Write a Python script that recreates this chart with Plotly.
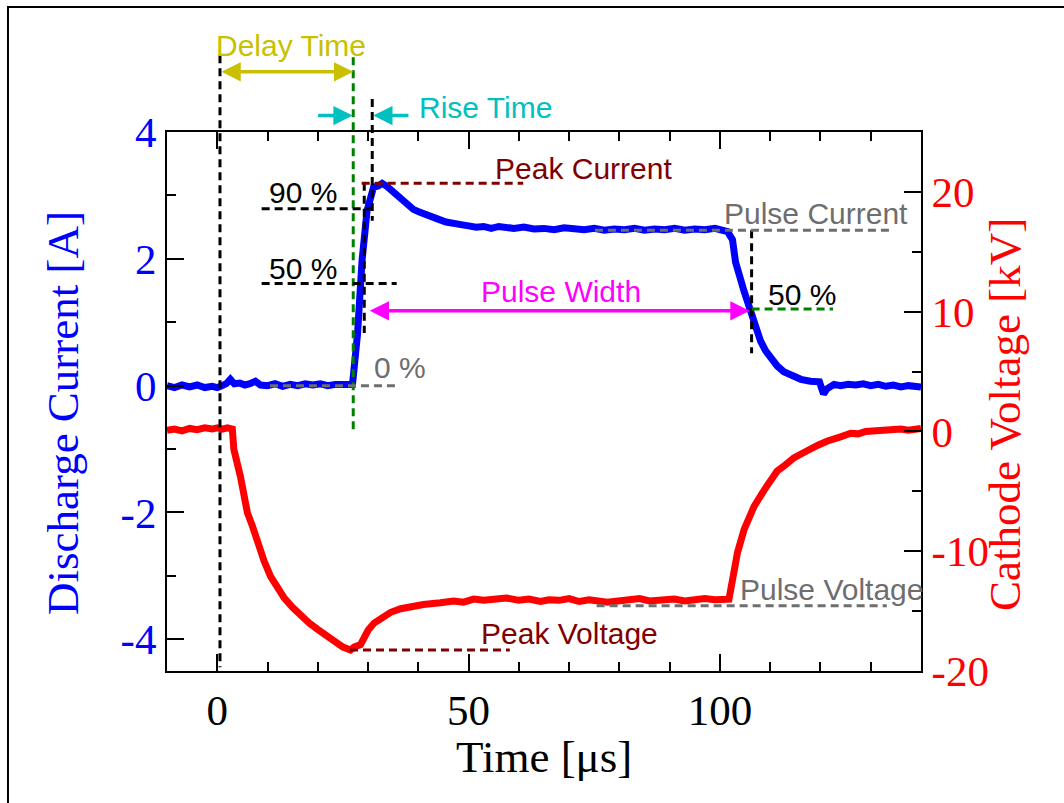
import plotly.graph_objects as go

# ---------------- data ----------------
time_current = [-10, -8.5, -7, -5.5, -4, -2.5, -1, 0, 1, 1.8, 2.6, 3.4, 4.5, 5.5, 6.5, 7.6, 8.6,
                10, 11.5, 13, 14.5, 16, 17.5, 19, 20.5, 22, 23.5, 25, 26.2, 26.9, 27.9, 28.8,
                29.8, 30.5, 31.1, 32.0, 32.8, 33.8, 35.1, 36.5, 37.8, 39.0, 40.2, 41.5, 42.8,
                43.8, 45.5, 47.0, 48.5, 50, 51.5, 53, 54.5, 56, 57.5, 59, 61, 63, 65, 67, 69,
                71, 73, 75, 77, 79, 81, 83, 85, 87, 89, 91, 93, 95, 97, 99, 100.5, 101.5,
                102.5, 103.1, 104.8, 106.1, 107.0, 108.1, 109.1, 110.1, 111.4, 112.7, 114.5,
                116.1, 118.0, 119.8, 120.6, 121.3, 122.7, 124, 125.5, 127, 128.5, 130, 131.5,
                133, 134.5, 136, 137.5, 139, 140]
discharge_current = [0.00, -0.03, 0.01, -0.02, 0.01, -0.03, -0.01, -0.03, 0.00, 0.03, 0.10, 0.03,
                     0.04, 0.01, 0.03, 0.07, 0.01, 0.00, 0.03, -0.01, 0.02, 0.00, 0.03, 0.01,
                     0.03, 0.00, 0.02, 0.01, 0.02, 0.02, 0.81, 1.97, 2.76, 3.00, 3.13, 3.15,
                     3.19, 3.14, 3.05, 2.93, 2.84, 2.78, 2.74, 2.69, 2.66, 2.63, 2.58, 2.57,
                     2.54, 2.52, 2.50, 2.51, 2.48, 2.51, 2.49, 2.48, 2.50, 2.47, 2.48, 2.46,
                     2.49, 2.47, 2.46, 2.48, 2.45, 2.47, 2.46, 2.48, 2.45, 2.47, 2.46, 2.48,
                     2.45, 2.47, 2.46, 2.48, 2.45, 2.43, 2.30, 1.95, 1.49, 1.17, 0.95, 0.70,
                     0.55, 0.43, 0.31, 0.22, 0.15, 0.10, 0.07, 0.06, -0.13, -0.05, 0.02, 0.00,
                     0.02, 0.01, 0.03, 0.00, 0.02, -0.01, 0.01, -0.02, 0.00, -0.02, -0.02]

time_voltage = [-10, -8.5, -7, -5.5, -4, -2.5, -1, 0, 1, 2, 3.0, 3.3, 4.6, 6.0, 7.0, 8.0, 9.3,
                10.6, 12, 13.3, 15, 16.6, 18.3, 19.9, 21.5, 23.2, 25, 26.5, 27.2, 28.5, 29.2,
                30, 31.2, 32.5, 34.5, 36.5, 38.5, 41, 44.4, 47, 49, 51, 53, 55, 57.5, 60,
                62, 64.3, 66, 68, 70, 72, 74, 77.6, 80, 82, 84, 86, 88, 90.9, 93, 95, 97, 99,
                100.5, 101.8, 102.5, 103.5, 104.8, 106.8, 108.8, 111.4, 113, 114.7, 116.5,
                118.0, 119.5, 121.4, 122.5, 124, 126.0, 127.5, 129, 131, 132.6, 134, 136,
                137.5, 139.3, 140]
cathode_voltage = [0.1, 0.2, 0.05, 0.25, 0.15, 0.3, 0.2, 0.3, 0.2, 0.3, 0.2, -1.5, -3.75, -6.8,
                   -7.9, -9.3, -10.8, -12.1, -13.1, -13.9, -14.7, -15.4, -16.0, -16.5, -17.0,
                   -17.6, -18.0, -18.25, -18.0, -17.8, -17.2, -16.6, -16.0, -15.6, -15.1,
                   -14.8, -14.6, -14.45, -14.3, -14.15, -14.25, -14.0, -14.1, -14.05, -13.9,
                   -14.1, -14.0, -14.2, -14.05, -14.1, -13.95, -14.2, -14.05, -14.25, -14.1,
                   -14.1, -13.95, -14.15, -14.05, -14.0, -14.15, -14.1, -13.95, -14.05, -14.1,
                   -14.0, -12.4, -10.1, -8.2, -6.25, -4.9, -3.3, -2.8, -2.2, -1.8, -1.4, -1.15,
                   -0.8, -0.7, -0.45, -0.15, -0.2, 0.0, 0.05, 0.15, 0.05, 0.2, 0.1, 0.3, 0.25]

x_ticks = [0, 50, 100]
x_ticktext = ["0", "50", "100"]
current_ticks = [-4, -2, 0, 2, 4]
current_ticktext = ["-4", "-2", "0", "2", "4"]
voltage_ticks = [-20, -10, 0, 10, 20]
voltage_ticktext = ["-20", "-10", "0", "10", "20"]

X_RANGE = [-10, 140]
I_RANGE = [-4.5, 4]
V_RANGE = [-20, 25]

def ip(v):  # current value -> paper y
    return (v - I_RANGE[0]) / (I_RANGE[1] - I_RANGE[0])

def vp(v):  # voltage value -> paper y
    return (v - V_RANGE[0]) / (V_RANGE[1] - V_RANGE[0])

SERIF = "Liberation Serif"
SANS = "Liberation Sans"
TFS = 43
AFS = 30

BLACK = "#000000"
GREEN = "#008000"
GRAY = "#6e6e6e"
DRED = "#800000"
YEL = "#c8c000"
CYAN = "#00c0c0"
MAG = "#ff00ff"
DASH = "8px,5px"

fig = go.Figure()
fig.add_trace(go.Scatter(x=time_voltage, y=cathode_voltage, yaxis="y2", mode="lines",
                         line=dict(color="#ff0000", width=7), showlegend=False))
fig.add_trace(go.Scatter(x=time_current, y=discharge_current, mode="lines",
                         line=dict(color="#0000ff", width=7), showlegend=False))

shapes = []

def vline(t, y0, y1, color):
    shapes.append(dict(type="line", xref="x", yref="paper", x0=t, x1=t, y0=ip(y0), y1=ip(y1),
                       line=dict(color=color, width=3, dash=DASH), layer="above"))

def hline(t0, t1, p, color):
    shapes.append(dict(type="line", xref="x", yref="paper", x0=t0, x1=t1, y0=p, y1=p,
                       line=dict(color=color, width=3, dash=DASH), layer="above"))

# vertical markers (current units)
vline(0.54, 5.21, -4.44, BLACK)
vline(27.05, 5.18, -0.73, GREEN)
vline(30.83, 4.52, 2.6, BLACK)
vline(29.24, 3.2, 0.83, BLACK)
vline(106.3, 2.45, 0.51, BLACK)
# horizontal markers
hline(8.83, 30.97, ip(2.79), BLACK)
hline(8.83, 35.69, ip(1.61), BLACK)
hline(10.48, 35.69, ip(0.0), GRAY)
hline(28.73, 60.87, ip(3.19), DRED)
hline(75.13, 134.5, ip(2.45), GRAY)
hline(106.3, 122.5, ip(1.21), GREEN)
hline(26.4, 58.2, vp(-18.25), DRED)
hline(75.47, 133.2, vp(-14.55), GRAY)

# outer frame
shapes.append(dict(type="rect", xref="paper", yref="paper", x0=-0.2109, x1=1.3, y0=-0.4, y1=1.2319,
                   line=dict(color="black", width=2), layer="above"))

annotations = []

def arrow(t_head, t_tail, p, color, both=False):
    annotations.append(dict(x=t_head, y=p, xref="x", yref="paper", ax=t_tail, ay=0,
                            axref="x", ayref="pixel", text="", showarrow=True,
                            arrowhead=2, arrowsize=1.1, arrowwidth=3.5, arrowcolor=color,
                            startarrowhead=2, startarrowsize=1.1,
                            arrowside="end+start" if both else "end", standoff=0, startstandoff=0))

arrow(27.05, 0.54, ip(4.95), YEL, both=True)
arrow(26.93, 19.77, ip(4.26), CYAN)
arrow(31.03, 38.33, ip(4.26), CYAN)
arrow(105.9, 30.04, ip(1.18), MAG, both=True)

def label(text, t, p, color):
    annotations.append(dict(x=t, y=p, xref="x", yref="paper", text=text, showarrow=False,
                            xanchor="center", yanchor="middle",
                            font=dict(family=SANS, size=AFS, color=color)))

label("Delay Time", 14.6, ip(5.36), YEL)
label("Rise Time", 53.3, ip(4.39), CYAN)
label("Peak Current", 72.8, ip(3.43), DRED)
label("90 %", 17.1, ip(3.05), BLACK)
label("50 %", 17.1, ip(1.85), BLACK)
label("0 %", 36.35, ip(0.28), GRAY)
label("Pulse Current", 119.2, ip(2.71), GRAY)
label("50 %", 116.4, ip(1.43), BLACK)
label("Pulse Width", 68.3, ip(1.49), MAG)
label("Peak Voltage", 70.0, vp(-16.87), DRED)
label("Pulse Voltage", 122.2, vp(-13.21), GRAY)

# axis titles
annotations.append(dict(x=-0.1379, y=0.4787, xref="paper", yref="paper", text="Discharge Current [A]",
                        textangle=-90, showarrow=False, xanchor="center", yanchor="middle",
                        font=dict(family=SERIF, size=45, color="#0000ff")))
annotations.append(dict(x=1.1114, y=0.4768, xref="paper", yref="paper", text="Cathode Voltage [kV]",
                        textangle=-90, showarrow=False, xanchor="center", yanchor="middle",
                        font=dict(family=SERIF, size=45, color="#ff0000")))
annotations.append(dict(x=0.5, y=-0.1596, xref="paper", yref="paper", text="Time [μs]",
                        showarrow=False, xanchor="center", yanchor="middle",
                        font=dict(family=SERIF, size=45, color="#000000")))

fig.update_layout(
    width=1064, height=803,
    margin=dict(l=167, r=143, t=132, b=132),
    paper_bgcolor="white", plot_bgcolor="white",
    showlegend=False,
    xaxis=dict(range=X_RANGE, tickvals=x_ticks, ticktext=x_ticktext, ticks="inside", ticklen=17,
               tickwidth=2, tickcolor="black", showline=True, linecolor="black", linewidth=2,
               mirror="ticks", showgrid=False, zeroline=False,
               tickfont=dict(family=SERIF, size=TFS, color="black"),
               minor=dict(dtick=10, tick0=0, ticks="inside", ticklen=9, tickwidth=2,
                          tickcolor="black", showgrid=False)),
    yaxis=dict(range=I_RANGE, tickvals=current_ticks, ticktext=current_ticktext, ticks="inside",
               ticklen=17, tickwidth=2, tickcolor="black", showline=True, linecolor="black",
               linewidth=2, showgrid=False, zeroline=False,
               tickfont=dict(family=SERIF, size=TFS, color="#0000ff"),
               minor=dict(dtick=1, tick0=0, ticks="inside", ticklen=9, tickwidth=2,
                          tickcolor="black", showgrid=False)),
    yaxis2=dict(range=V_RANGE, tickvals=voltage_ticks, ticktext=voltage_ticktext,
                overlaying="y", side="right",
                ticks="inside", ticklen=17, tickwidth=2, tickcolor="black",
                showline=True, linecolor="black", linewidth=2,
                showgrid=False, zeroline=False,
                tickfont=dict(family=SERIF, size=TFS, color="#ff0000"),
                minor=dict(dtick=5, tick0=0, ticks="inside", ticklen=9, tickwidth=2,
                           tickcolor="black", showgrid=False)),
    shapes=shapes,
    annotations=annotations,
)

fig.write_html("out.html")
